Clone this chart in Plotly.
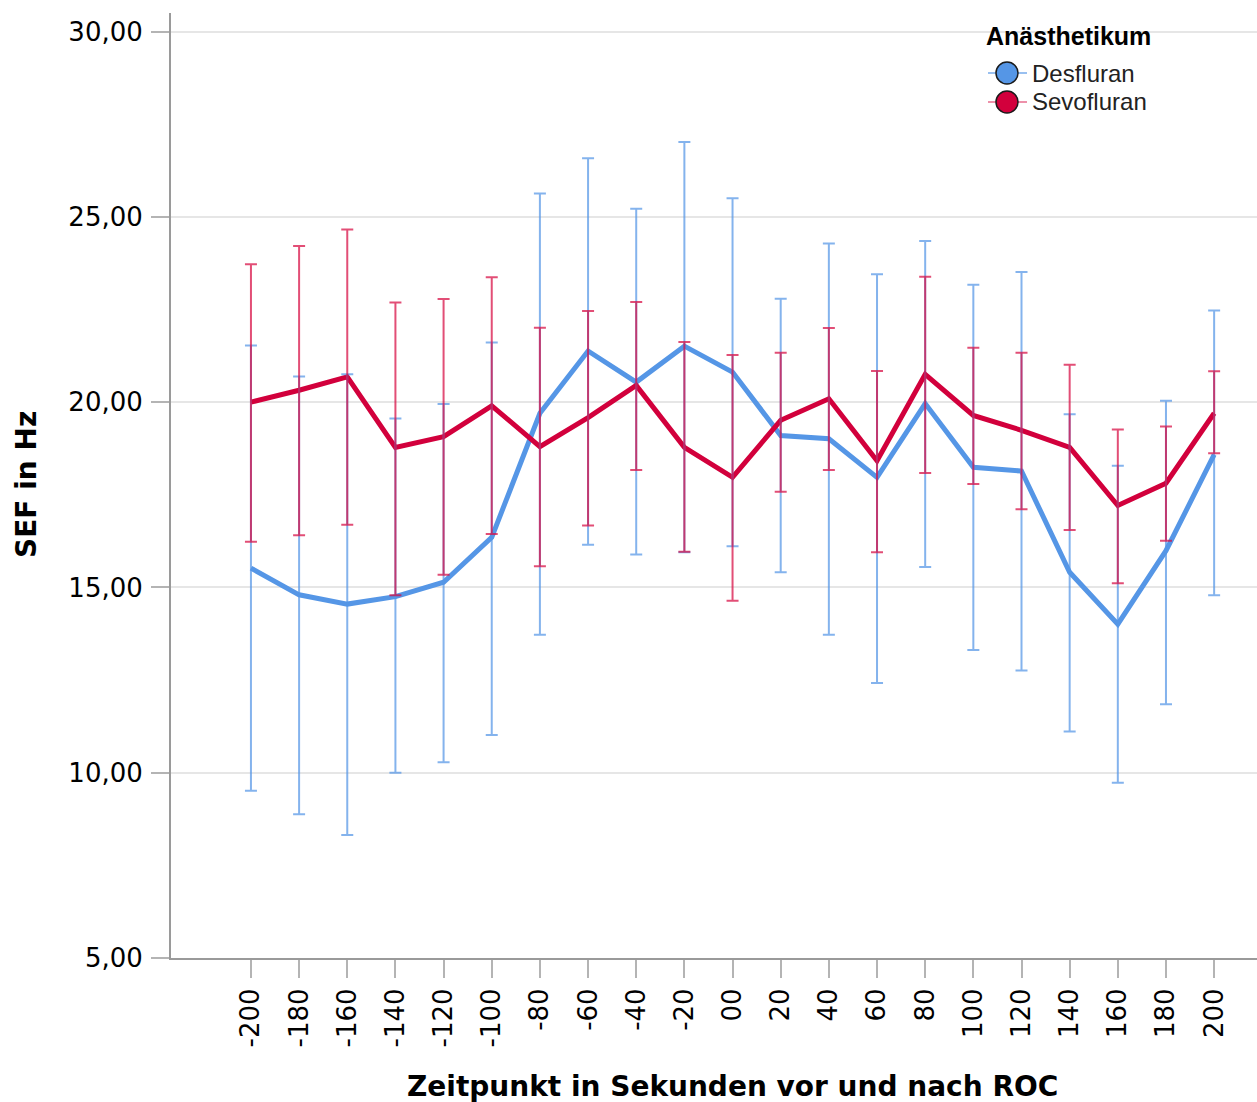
import plotly.graph_objects as go

# Time points (seconds before/after ROC)
zeitpunkte = ["-200", "-180", "-160", "-140", "-120", "-100", "-80", "-60", "-40", "-20",
              "00", "20", "40", "60", "80", "100", "120", "140", "160", "180", "200"]

# Desfluran: mean SEF and error bar limits
des_mean = [15.52, 14.80, 14.55, 14.75, 15.14, 16.35, 19.70, 21.38, 20.54, 21.51,
            20.81, 19.10, 19.01, 17.97, 19.96, 18.24, 18.14, 15.41, 14.01, 15.99, 18.58]
des_upper = [21.53, 20.69, 20.75, 19.56, 19.95, 21.61, 25.63, 26.58, 25.22, 27.02,
             25.50, 22.79, 24.28, 23.45, 24.35, 23.17, 23.51, 19.67, 18.28, 20.04, 22.47]
des_lower = [9.51, 8.88, 8.32, 10.00, 10.28, 11.02, 13.72, 16.15, 15.89, 15.95,
             16.11, 15.41, 13.72, 12.42, 15.55, 13.31, 12.76, 11.11, 9.73, 11.85, 14.79]

# Sevofluran: mean SEF and error bar limits
sevo_mean = [20.00, 20.32, 20.68, 18.78, 19.07, 19.90, 18.80, 19.58, 20.45, 18.78,
             17.97, 19.51, 20.09, 18.42, 20.75, 19.64, 19.24, 18.78, 17.21, 17.81, 19.70]
sevo_upper = [23.72, 24.21, 24.66, 22.69, 22.78, 23.37, 22.01, 22.46, 22.70, 21.62,
              21.27, 21.33, 22.00, 20.84, 23.38, 21.47, 21.33, 21.01, 19.26, 19.34, 20.83]
sevo_lower = [16.23, 16.41, 16.69, 14.79, 15.34, 16.44, 15.57, 16.67, 18.17, 15.96,
              14.64, 17.58, 18.17, 15.95, 18.09, 17.79, 17.11, 16.55, 15.11, 16.26, 18.62]

y_ticks = [5, 10, 15, 20, 25, 30]
y_tick_text = ["5,00", "10,00", "15,00", "20,00", "25,00", "30,00"]

BLUE = "#5596E6"
RED = "#D2003C"
BLUE_ERR = "rgba(85,150,230,0.72)"
RED_ERR = "rgba(215,10,65,0.72)"

W, H = 1257, 1102
ML, MR, MT, MB = 171, 0, 13, 144
PW, PH = W - ML - MR, H - MT - MB


def px(x):
    return (x - ML) / PW


def py(y):
    return (H - MB - y) / PH


fig = go.Figure()

# mean lines
for name, mean, color in [("Desfluran", des_mean, BLUE), ("Sevofluran", sevo_mean, RED)]:
    fig.add_trace(go.Scatter(
        x=zeitpunkte, y=mean, mode="lines", name=name, showlegend=False,
        line=dict(color=color, width=5), hoverinfo="skip"))

# error bars
for mean, upper, lower, color in [(des_mean, des_upper, des_lower, BLUE_ERR),
                                  (sevo_mean, sevo_upper, sevo_lower, RED_ERR)]:
    plus = [u - m for u, m in zip(upper, mean)]
    minus = [m - lo for m, lo in zip(mean, lower)]
    fig.add_trace(go.Scatter(
        x=zeitpunkte, y=mean, mode="markers", showlegend=False,
        marker=dict(size=1, opacity=0),
        error_y=dict(type="data", symmetric=False, array=plus, arrayminus=minus,
                     color=color, thickness=2, width=6),
        hoverinfo="skip"))

FONT = "Arial, Liberation Sans, sans-serif"
WIDE = "DejaVu Sans, Arial, sans-serif"

fig.update_layout(
    width=W, height=H,
    margin=dict(l=ML, r=MR, t=MT, b=MB, pad=0),
    paper_bgcolor="white", plot_bgcolor="white",
    showlegend=False,
    font=dict(family=FONT, color="#000000"),
    xaxis=dict(
        type="category", range=[-1.66, 20.89],
        tickangle=-90, tickfont=dict(size=26, family=WIDE, color="#000"),
        ticks="outside", ticklen=18, tickwidth=1.5, tickcolor="#B4B4B4",
        ticklabelstandoff=0,
        showline=True, linecolor="#9A9A9A", linewidth=2,
        showgrid=False, zeroline=False),
    yaxis=dict(
        range=[5, 30.5], tickvals=y_ticks, ticktext=y_tick_text,
        tickfont=dict(size=26, family=WIDE, color="#000"),
        ticks="outside", ticklen=18, tickwidth=1.5, tickcolor="#B4B4B4",
        ticklabelstandoff=3,
        showline=True, linecolor="#9A9A9A", linewidth=2,
        showgrid=True, gridcolor="#E6E6E6", gridwidth=1.5, zeroline=False),
)

annotations = [
    dict(text="<b>Zeitpunkt in Sekunden vor und nach ROC</b>", x=px(732), y=py(1086),
         xref="paper", yref="paper", showarrow=False, xanchor="center", yanchor="middle",
         font=dict(size=28, family=WIDE, color="#000")),
    dict(text="<b>SEF in Hz</b>", x=px(26), y=py(485), xref="paper", yref="paper",
         showarrow=False, textangle=-90, xanchor="center", yanchor="middle",
         font=dict(size=28, family=WIDE, color="#000")),
    dict(text="<b>Anästhetikum</b>", x=px(984), y=py(36), xref="paper", yref="paper",
         showarrow=False, xanchor="left", yanchor="middle",
         font=dict(size=25, family=FONT, color="#000")),
]

shapes = []
legend_items = [("Desfluran", BLUE, "rgba(85,150,230,0.8)", 73),
                ("Sevofluran", RED, "rgba(215,10,65,0.6)", 102)]
for label, fill, seg, yc in legend_items:
    shapes.append(dict(type="line", xref="paper", yref="paper",
                       x0=px(988), x1=px(1027), y0=py(yc), y1=py(yc),
                       line=dict(color=seg, width=1.5)))
    shapes.append(dict(type="circle", xref="paper", yref="paper",
                       x0=px(996), x1=px(1018), y0=py(yc + 11), y1=py(yc - 11),
                       fillcolor=fill, line=dict(color="#1A1A1A", width=1.5)))
    annotations.append(dict(text=label, x=px(1030), y=py(yc), xref="paper", yref="paper",
                            showarrow=False, xanchor="left", yanchor="middle",
                            font=dict(size=24, family=FONT, color="#222")))

fig.update_layout(annotations=annotations, shapes=shapes)

fig.write_html("out.html")
